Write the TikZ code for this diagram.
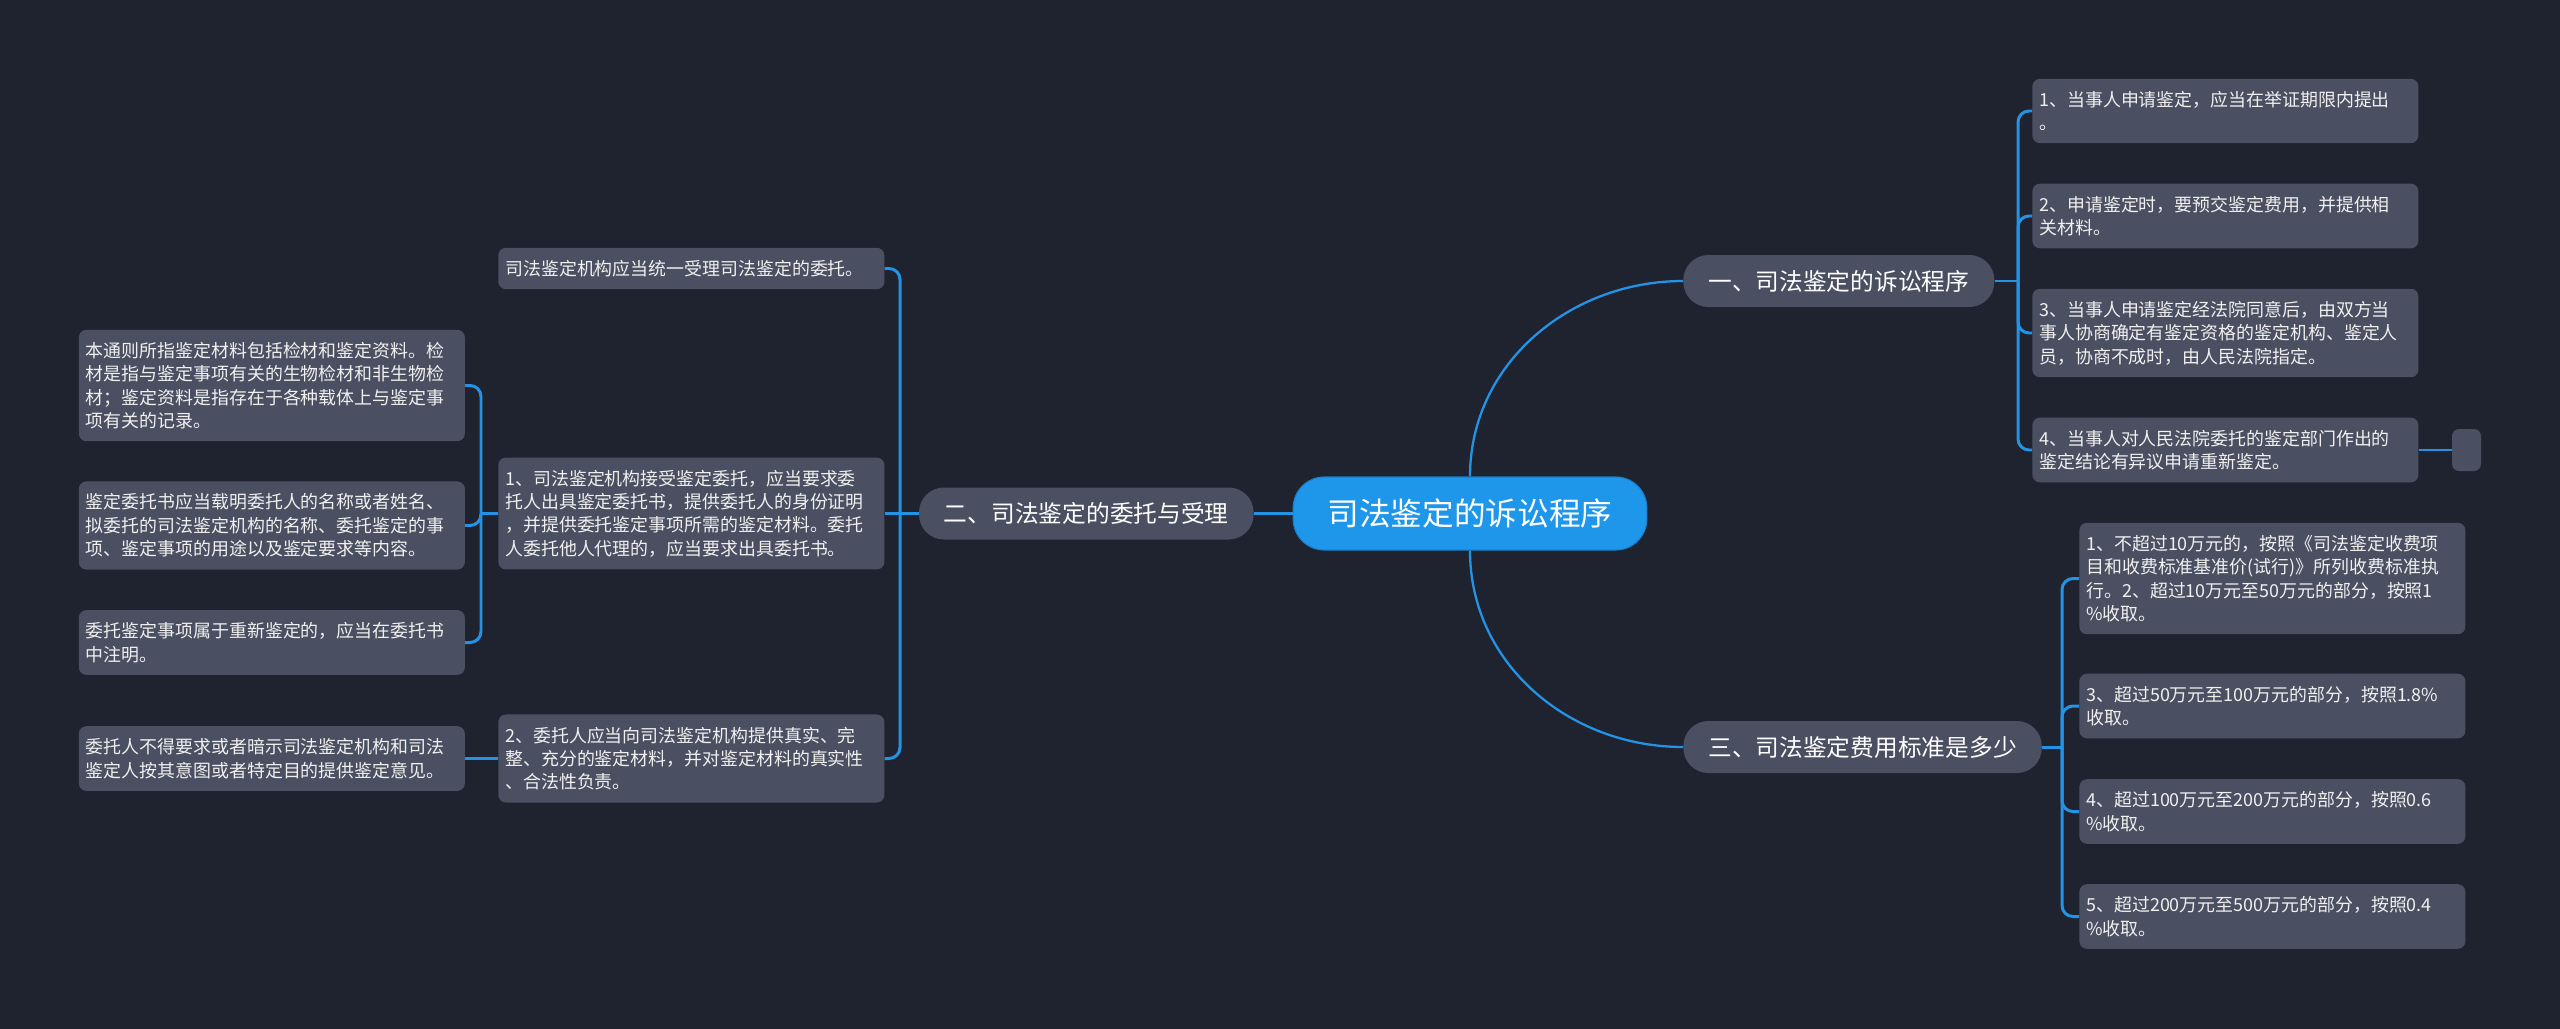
\documentclass[tikz,border=0pt]{standalone}
\usepackage{fontspec}
\setmainfont{Noto Sans CJK SC}

\definecolor{achtergrond}{HTML}{1F2330}
\definecolor{vakgrijs}{HTML}{4A5061}
\definecolor{wortelblauw}{HTML}{1E96EA}
\definecolor{wortelrand}{HTML}{1A7FCC}
\definecolor{lijnblauw}{HTML}{2393E6}

\begin{document}
\begin{tikzpicture}

% --- Stijlen ---
\tikzset{
    wortel/.style={
        fill=wortelblauw,
        draw=wortelrand,
        line width=0.6pt,
        text=white,
        font=\fontsize{18}{22}\selectfont,
        rounded corners=0.62cm,
        minimum height=1.46cm,
        inner xsep=0.69cm
    },
    tak/.style={
        fill=vakgrijs,
        text=white,
        font=\fontsize{13.5}{16}\selectfont,
        rounded corners=0.5cm,
        minimum height=1.04cm,
        inner xsep=0.5cm
    },
    blad/.style={
        fill=vakgrijs,
        text=white!94!black,
        font=\fontsize{10.2}{13.3}\selectfont,
        rounded corners=0.15cm,
        text width=7.44cm,
        align=left,
        inner xsep=0.14cm,
        inner ysep=7pt
    },
    leeg/.style={
        fill=vakgrijs,
        rounded corners=0.14cm,
        minimum width=0.58cm,
        minimum height=0.84cm,
        inner sep=0pt
    },
    lijn/.style={
        draw=lijnblauw,
        line width=1.7pt,
        rounded corners=0.22cm   % zachte knik naar elk blad
    }
}

% --- Achtergrond ---
\fill[achtergrond] (0,0) rectangle (51.2,-20.58);

% --- Hoofdknoop en takken ---
\node[wortel] (wortel) at (29.40,-10.27) {司法鉴定的诉讼程序};
\node[tak, anchor=west] (t1) at (33.66,-5.62) {一、司法鉴定的诉讼程序};
\node[tak, anchor=east] (t2) at (25.08,-10.27) {二、司法鉴定的委托与受理};
\node[tak, anchor=west] (t3) at (33.66,-14.94) {三、司法鉴定费用标准是多少};

% --- Bladeren tak 1 ---
\node[blad, anchor=west] (b1) at (40.64,-2.22) {1、当事人申请鉴定，应当在举证期限内提出\\。};
\node[blad, anchor=west] (b2) at (40.64,-4.32) {2、申请鉴定时，要预交鉴定费用，并提供相\\关材料。};
\node[blad, anchor=west] (b3) at (40.64,-6.66) {3、当事人申请鉴定经法院同意后，由双方当\\事人协商确定有鉴定资格的鉴定机构、鉴定人\\员，协商不成时，由人民法院指定。};
\node[blad, anchor=west] (b4) at (40.64,-9.00) {4、当事人对人民法院委托的鉴定部门作出的\\鉴定结论有异议申请重新鉴定。};
\node[leeg] (b4leeg) at (49.33,-9.00) {};

% --- Bladeren tak 3 ---
\node[blad, anchor=west] (c1) at (41.58,-11.57) {1、不超过10万元的，按照《司法鉴定收费项\\目和收费标准基准价(试行)》所列收费标准执\\行。2、超过10万元至50万元的部分，按照1\\\%收取。};
\node[blad, anchor=west] (c2) at (41.58,-14.12) {3、超过50万元至100万元的部分，按照1.8\%\\收取。};
\node[blad, anchor=west] (c3) at (41.58,-16.23) {4、超过100万元至200万元的部分，按照0.6\\\%收取。};
\node[blad, anchor=west] (c4) at (41.58,-18.33) {5、超过200万元至500万元的部分，按照0.4\\\%收取。};

% --- Bladeren tak 2 ---
\node[blad, anchor=west] (m1) at (9.96,-5.37) {司法鉴定机构应当统一受理司法鉴定的委托。};
\node[blad, anchor=west] (m2) at (9.96,-10.27) {1、司法鉴定机构接受鉴定委托，应当要求委\\托人出具鉴定委托书，提供委托人的身份证明\\，并提供委托鉴定事项所需的鉴定材料。委托\\人委托他人代理的，应当要求出具委托书。};
\node[blad, anchor=west] (m3) at (9.96,-15.17) {2、委托人应当向司法鉴定机构提供真实、完\\整、充分的鉴定材料，并对鉴定材料的真实性\\、合法性负责。};

\node[blad, anchor=west] (l1) at (1.57,-7.71) {本通则所指鉴定材料包括检材和鉴定资料。检\\材是指与鉴定事项有关的生物检材和非生物检\\材；鉴定资料是指存在于各种载体上与鉴定事\\项有关的记录。};
\node[blad, anchor=west] (l2) at (1.57,-10.51) {鉴定委托书应当载明委托人的名称或者姓名、\\拟委托的司法鉴定机构的名称、委托鉴定的事\\项、鉴定事项的用途以及鉴定要求等内容。};
\node[blad, anchor=west] (l3) at (1.57,-12.85) {委托鉴定事项属于重新鉴定的，应当在委托书\\中注明。};
\node[blad, anchor=west] (l4) at (1.57,-15.17) {委托人不得要求或者暗示司法鉴定机构和司法\\鉴定人按其意图或者特定目的提供鉴定意见。};

% --- Knikpunten ---
\coordinate (k1) at (40.36,-5.62);
\coordinate (k2) at (18.00,-10.27);
\coordinate (k3) at (41.24,-14.94);
\coordinate (k4) at (9.62,-10.27);

% --- Lijnen ---
\draw[lijn, line width=1.3pt] (wortel.north) to[out=90, in=180] (t1.west);
\draw[lijn, line width=1.3pt] (wortel.south) to[out=-90, in=180] (t3.west);
\draw[lijn] (wortel.west) -- (t2.east);

\draw[lijn] (t1.east) -- (k1);
\draw[lijn] (k1) |- (b1.west);
\draw[lijn] (k1) |- (b2.west);
\draw[lijn] (k1) |- (b3.west);
\draw[lijn] (k1) |- (b4.west);
\draw[lijn] (b4.east) -- (b4leeg.west);

\draw[lijn] (t3.east) -- (k3);
\draw[lijn] (k3) |- (c1.west);
\draw[lijn] (k3) |- (c2.west);
\draw[lijn] (k3) |- (c3.west);
\draw[lijn] (k3) |- (c4.west);

\draw[lijn] (t2.west) -- (k2);
\draw[lijn] (k2) |- (m1.east);
\draw[lijn] (k2) -- (m2.east);
\draw[lijn] (k2) |- (m3.east);

\draw[lijn] (m2.west) -- (k4);
\draw[lijn] (k4) |- (l1.east);
\draw[lijn] (k4) |- (l2.east);
\draw[lijn] (k4) |- (l3.east);
\draw[lijn] (m3.west) -- (l4.east);
\end{tikzpicture}
\end{document}
